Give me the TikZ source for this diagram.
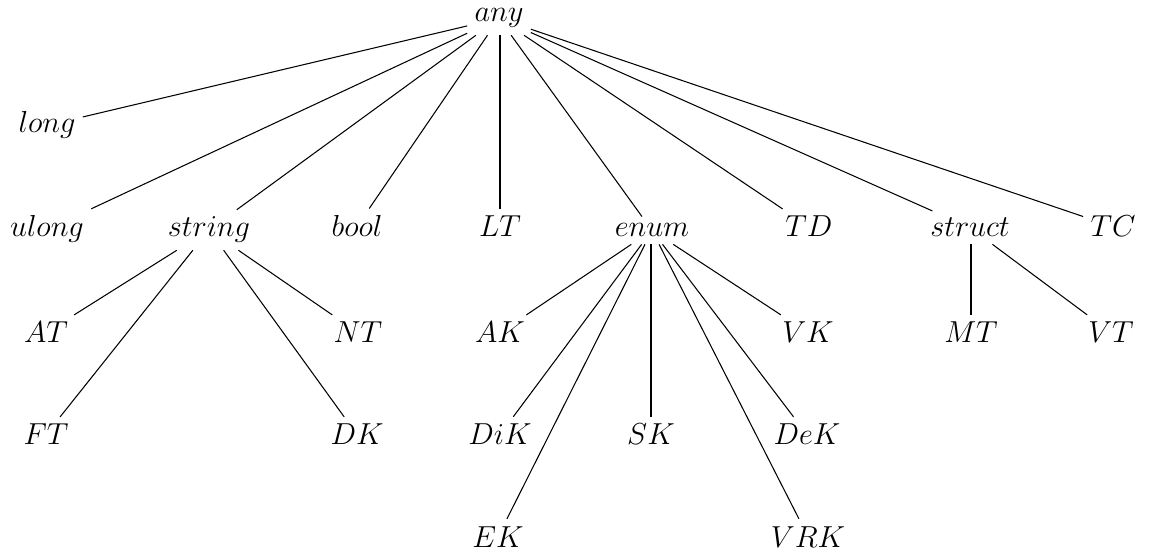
\documentclass[tikz,border=0pt]{standalone}
\usetikzlibrary{positioning}

\begin{document}
\begin{tikzpicture}[x=0.02cm,y=-0.02cm,
    lbl/.style={font=\fontsize{17.5}{20}\selectfont,inner sep=4pt,anchor=base},
    edge/.style={line width=0.6pt},
    vedge/.style={line width=1.5pt}]
        \useasboundingbox (0,0) rectangle (1154,557);
        \node[lbl] (any) at (499,22) {$any$};
        \node[lbl] (long) at (47,133) {$long$};
        \node[lbl] (ulong) at (47,237) {$ulong$};
        \node[lbl] (string) at (209,237) {$string$};
        \node[lbl] (bool) at (357,237) {$bool$};
        \node[lbl] (LT) at (500,237) {$LT$};
        \node[lbl] (enum) at (652,237) {$enum$};
        \node[lbl] (TD) at (809,237) {$TD$};
        \node[lbl] (struct) at (970,237) {$struct$};
        \node[lbl] (TC) at (1113,237) {$TC$};
        \node[lbl] (AT) at (46,343) {$AT$};
        \node[lbl] (NT) at (358,343) {$NT$};
        \node[lbl] (AK) at (500,343) {$AK$};
        \node[lbl] (VK) at (808,343) {$VK$};
        \node[lbl] (MT) at (971,343) {$MT$};
        \node[lbl] (VT) at (1111,343) {$VT$};
        \node[lbl] (FT) at (46,445) {$FT$};
        \node[lbl] (DK) at (357,445) {$DK$};
        \node[lbl] (DiK) at (500,445) {$DiK$};
        \node[lbl] (SK) at (651,445) {$SK$};
        \node[lbl] (DeK) at (807,445) {$DeK$};
        \node[lbl] (EK) at (498,547) {$EK$};
        \node[lbl] (VRK) at (808,547) {$VRK$};

        \foreach \c in {long,ulong,string,bool,enum,TD,struct,TC}
          \draw[edge] (any) -- (\c);
        \foreach \c in {AT,FT,DK,NT}
          \draw[edge] (string) -- (\c);
        \foreach \c in {AK,DiK,EK,VRK,DeK,VK}
          \draw[edge] (enum) -- (\c);
        \draw[edge] (struct) -- (VT);
        \draw[vedge] (LT.north |- any.south) -- (LT.north);
        \draw[vedge] (SK.north |- enum.south) -- (SK.north);
        \draw[vedge] (MT.north |- struct.south) -- (MT.north);
      \end{tikzpicture}
\end{document}
